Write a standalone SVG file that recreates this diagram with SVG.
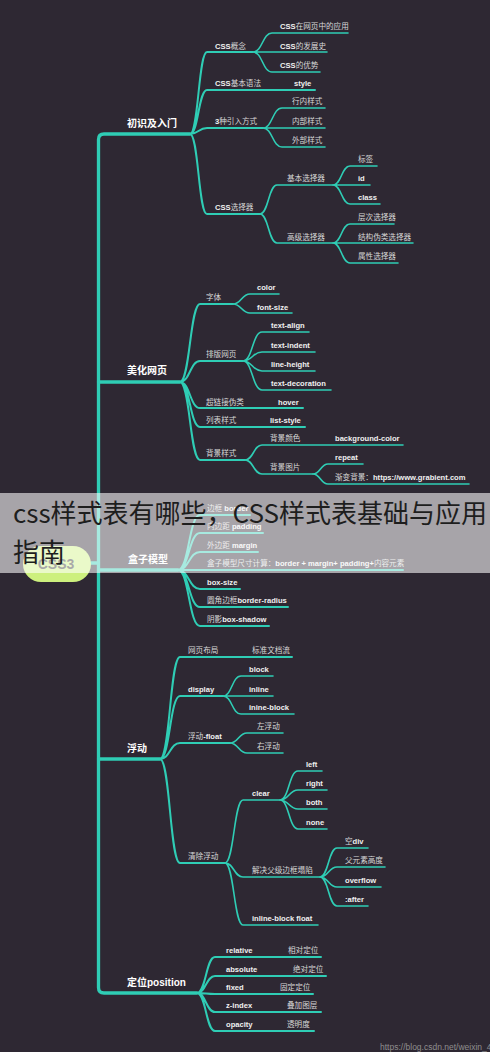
<svg xmlns="http://www.w3.org/2000/svg" width="490" height="1052" viewBox="0 0 490 1052">
<style>
.bg{fill:#2e2833}
.ln{fill:none;stroke:#2fcdb5;stroke-linecap:round}
.w3{stroke-width:3.3}
.w2{stroke-width:2}
.w1{stroke-width:1.6}
.t{font-family:"Liberation Sans","Noto Sans CJK SC",sans-serif;font-size:7.6px;font-weight:bold;fill:#f0f0f0}
.c{font-family:"Noto Sans CJK SC",sans-serif;font-weight:normal;fill:#d8d8d8}
.m{font-family:"Liberation Sans","Noto Sans CJK SC",sans-serif;font-size:10px;font-weight:bold;fill:#ffffff}
.banner{fill:#ffffff;fill-opacity:0.58}
.bt{font-family:"Noto Sans CJK SC",sans-serif;font-size:26px;fill:#1e1e1e}
.wm{font-family:"Liberation Sans",sans-serif;font-size:8.5px;fill:#8e8e8e}
</style>
<rect class="bg" x="0" y="0" width="490" height="1052"/>

<g id="connectors">
<path class="ln w3" d="M190,134 H104 Q98.5,134 98.5,139.5 V987.5 Q98.5,993 104,993 H197"/>
<path class="ln w3" d="M98.5,382 H180 M98.5,570 H178 M98.5,759 H160 M91,563 H98.5"/>
<!-- 初识及入门 -->
<path class="ln w2" d="M190,134 C198.5,134 198.5,52 207,52 H253 M190,134 C198.5,134 198.5,90 207,90 H315 M190,134 C198.5,134 198.5,128 207,128 H263 M190,134 C198.5,134 198.5,214 207,214 H260"/>
<path class="ln w1" d="M253,52 C262.5,52 262.5,33 272,33 H348 M253,52 H327 M253,52 C262.5,52 262.5,72 272,72 H320"/>
<path class="ln w1" d="M263,128 C272.5,128 272.5,108 282,108 H325 M263,128 H325 M263,128 C272.5,128 272.5,147 282,147 H325"/>
<path class="ln w1" d="M260,214 C268.5,214 268.5,185 277,185 H333 M260,214 C268.5,214 268.5,243 277,243 H333"/>
<path class="ln w1" d="M333,185 C341.5,185 341.5,166 350,166 H377 M333,185 H370 M333,185 C341.5,185 341.5,204 350,204 H380"/>
<path class="ln w1" d="M333,243 C341.5,243 341.5,224 350,224 H394 M333,243 H413 M333,243 C341.5,243 341.5,263 350,263 H398"/>
<!-- 美化网页 -->
<path class="ln w2" d="M180,382 C190,382 190,304 200,304 H233 M180,382 C190,382 190,361 200,361 H243 M180,382 C190,382 190,408 200,408 H303 M180,382 C190,382 190,427 200,427 H305 M180,382 C190,382 190,460 200,460 H245"/>
<path class="ln w1" d="M233,304 C241.5,304 241.5,294 250,294 H279 M233,304 C241.5,304 241.5,313 250,313 H292"/>
<path class="ln w1" d="M243,361 C252.5,361 252.5,332 262,332 H309 M243,361 C252.5,361 252.5,352 262,352 H315 M243,361 C252.5,361 252.5,371 262,371 H315 M243,361 C252.5,361 252.5,390 262,390 H331"/>
<path class="ln w1" d="M245,460 C253.5,460 253.5,445 262,445 H403 M245,460 C253.5,460 253.5,474 262,474 H313"/>
<path class="ln w1" d="M313,474 C320.5,474 320.5,464 328,464 H363 M313,474 C320.5,474 320.5,484 328,484 H469"/>
<!-- 盒子模型 -->
<path class="ln w2" d="M178,570 C189,570 189,515 200,515 H250 M178,570 C189,570 189,533 200,533 H263 M178,570 C189,570 189,552 200,552 H258 M178,570 H403 M178,570 C189,570 189,589 200,589 H240 M178,570 C189,570 189,607 200,607 H288 M178,570 C189,570 189,626 200,626 H269"/>
<!-- 浮动 -->
<path class="ln w2" d="M160,759 C170,759 170,657 180,657 H292 M160,759 C170,759 170,696 180,696 H223 M160,759 C170,759 170,743 180,743 H230 M160,759 C170,759 170,863 180,863 H225"/>
<path class="ln w1" d="M223,696 C232,696 232,676 241,676 H273 M223,696 H273 M223,696 C232,696 232,714 241,714 H294"/>
<path class="ln w1" d="M230,743 C238.5,743 238.5,733 247,733 H283 M230,743 C238.5,743 238.5,753 247,753 H283"/>
<path class="ln w1" d="M225,863 C234,863 234,800 243,800 H280 M225,863 C234,863 234,877 243,877 H320 M225,863 C234,863 234,925 243,925 H318"/>
<path class="ln w1" d="M280,800 C289,800 289,771 298,771 H322 M280,800 C289,800 289,790 298,790 H327 M280,800 C289,800 289,809 298,809 H327 M280,800 C289,800 289,829 298,829 H327"/>
<path class="ln w1" d="M320,877 C328.5,877 328.5,848 337,848 H368 M320,877 C328.5,877 328.5,867 337,867 H385 M320,877 C328.5,877 328.5,887 337,887 H381 M320,877 C328.5,877 328.5,906 337,906 H368"/>
<!-- 定位position -->
<path class="ln w2" d="M197,993 C206,993 206,957 215,957 H321 M197,993 C206,993 206,976 215,976 H326 M197,993 C206,993 206,994 215,994 H313 M197,993 C206,993 206,1012 215,1012 H321 M197,993 C206,993 206,1031 215,1031 H314"/>
</g>

<g id="root">
<rect x="23" y="546" width="68" height="36" rx="18" fill="#cdf07e"/>
<text x="56" y="568.5" text-anchor="middle" font-family="Liberation Sans,sans-serif" font-size="14" font-weight="bold" fill="#333333">CSS3</text>
</g>

<g id="n-intro">
<text class="m" x="127" y="127">初识及入门</text>
<text class="t" x="215" y="49">CSS<tspan class="c">概念</tspan></text>
<text class="t" x="280" y="29">CSS<tspan class="c">在网页中的应用</tspan></text>
<text class="t" x="280" y="49">CSS<tspan class="c">的发展史</tspan></text>
<text class="t" x="280" y="68">CSS<tspan class="c">的优势</tspan></text>
<text class="t" x="215" y="86">CSS<tspan class="c">基本语法</tspan></text>
<text class="t" x="294" y="86">style</text>
<text class="t" x="215" y="124">3<tspan class="c">种引入方式</tspan></text>
<text class="t c" x="292" y="104">行内样式</text>
<text class="t c" x="292" y="124">内部样式</text>
<text class="t c" x="292" y="143">外部样式</text>
<text class="t" x="215" y="210">CSS<tspan class="c">选择器</tspan></text>
<text class="t c" x="287" y="181">基本选择器</text>
<text class="t c" x="358" y="162">标签</text>
<text class="t" x="358" y="181">id</text>
<text class="t" x="358" y="200">class</text>
<text class="t c" x="287" y="240">高级选择器</text>
<text class="t c" x="358" y="220">层次选择器</text>
<text class="t c" x="358" y="240">结构伪类选择器</text>
<text class="t c" x="358" y="259">属性选择器</text>
</g>

<g id="n-beautify">
<text class="m" x="127" y="374">美化网页</text>
<text class="t c" x="206" y="300">字体</text>
<text class="t" x="257" y="290">color</text>
<text class="t" x="257" y="310">font-size</text>
<text class="t c" x="206" y="357">排版网页</text>
<text class="t" x="271" y="328">text-align</text>
<text class="t" x="271" y="348">text-indent</text>
<text class="t" x="271" y="367">line-height</text>
<text class="t" x="271" y="386">text-decoration</text>
<text class="t c" x="206" y="405">超链接伪类</text>
<text class="t" x="278" y="405">hover</text>
<text class="t c" x="206" y="423">列表样式</text>
<text class="t" x="270" y="423">list-style</text>
<text class="t c" x="206" y="456">背景样式</text>
<text class="t c" x="270" y="441">背景颜色</text>
<text class="t" x="335" y="441">background-color</text>
<text class="t c" x="270" y="470">背景图片</text>
<text class="t" x="335" y="460">repeat</text>
<text class="t" x="335" y="480"><tspan class="c">渐变背景：</tspan>https://www.grabient.com</text>
</g>

<g id="n-box">
<text class="m" x="128" y="563">盒子模型</text>
<text class="t" x="207" y="511"><tspan class="c">边框</tspan> border</text>
<text class="t" x="207" y="529"><tspan class="c">内边距</tspan> padding</text>
<text class="t" x="207" y="548"><tspan class="c">外边距</tspan> margin</text>
<text class="t" x="207" y="566"><tspan class="c">盒子模型尺寸计算：</tspan>border + margin+ padding+<tspan class="c">内容元素</tspan></text>
<text class="t" x="207" y="585">box-size</text>
<text class="t" x="207" y="603"><tspan class="c">圆角边框</tspan>border-radius</text>
<text class="t" x="207" y="622"><tspan class="c">阴影</tspan>box-shadow</text>
</g>

<g id="n-float">
<text class="m" x="127" y="752">浮动</text>
<text class="t c" x="188" y="653">网页布局</text>
<text class="t c" x="252" y="653">标准文档流</text>
<text class="t" x="188" y="692">display</text>
<text class="t" x="249" y="672">block</text>
<text class="t" x="249" y="692">inline</text>
<text class="t" x="249" y="710">inine-block</text>
<text class="t" x="188" y="739"><tspan class="c">浮动</tspan>-float</text>
<text class="t c" x="257" y="729">左浮动</text>
<text class="t c" x="257" y="749">右浮动</text>
<text class="t c" x="188" y="859">清除浮动</text>
<text class="t" x="252" y="796">clear</text>
<text class="t" x="306" y="767">left</text>
<text class="t" x="306" y="786">right</text>
<text class="t" x="306" y="805">both</text>
<text class="t" x="306" y="825">none</text>
<text class="t c" x="252" y="873">解决父级边框塌陷</text>
<text class="t" x="345" y="844"><tspan class="c">空</tspan>div</text>
<text class="t c" x="345" y="863">父元素高度</text>
<text class="t" x="345" y="883">overflow</text>
<text class="t" x="345" y="902">:after</text>
<text class="t" x="252" y="921">inline-block float</text>
</g>

<g id="n-position">
<text class="m" x="127" y="986">定位position</text>
<text class="t" x="226" y="953">relative</text>
<text class="t c" x="288" y="953">相对定位</text>
<text class="t" x="226" y="972">absolute</text>
<text class="t c" x="293" y="972">绝对定位</text>
<text class="t" x="226" y="990">fixed</text>
<text class="t c" x="280" y="990">固定定位</text>
<text class="t" x="226" y="1008">z-index</text>
<text class="t c" x="287" y="1008">叠加图层</text>
<text class="t" x="226" y="1027">opacity</text>
<text class="t c" x="287" y="1027">透明度</text>
</g>

<text class="wm" x="380" y="1050">https://blog.csdn.net/weixin_45145726</text>

<g id="banner">
<rect class="banner" x="0" y="493" width="490" height="80"/>
<text class="bt" x="13" y="523">css样式表有哪些，CSS样式表基础与应用</text>
<text class="bt" x="13" y="562">指南</text>
</g>
</svg>
